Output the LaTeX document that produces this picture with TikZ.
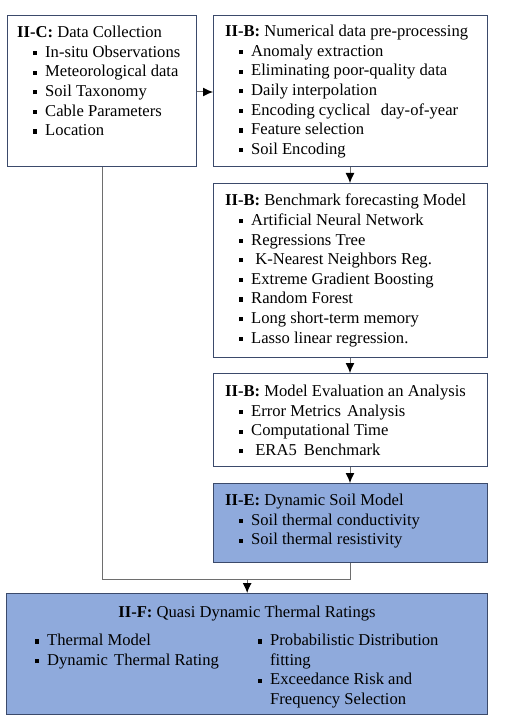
\documentclass[tikz,border=0pt]{standalone}
\usepackage{fontspec}
\setmainfont{Liberation Serif}
\usetikzlibrary{arrows.meta,calc}
\definecolor{boxline}{HTML}{3B4A6B}
\definecolor{boxblue}{HTML}{8FAADC}
\definecolor{conn}{HTML}{6E6E6E}
\newcommand{\bul}{\makebox[12pt][l]{\rule[2.2pt]{4.2pt}{4.2pt}}}
\begin{document}
\begin{tikzpicture}[x=1pt,y=-1pt,
  box/.style={draw=boxline,line width=1.3pt,anchor=north west,inner sep=0pt},
  bluebox/.style={box,fill=boxblue},
  txt/.style={anchor=north west,inner sep=0pt,align=left,font=\fontsize{16.6}{19.6}\selectfont},
  conn/.style={draw=conn,line width=1pt},
  arr/.style={conn,-{Latex[length=10pt,width=9pt,black]}}]
\useasboundingbox (0,0) rectangle (508,719);
\node[box,minimum width=189pt,minimum height=151pt] (b1) at (7,15) {};
\node[box,minimum width=274pt,minimum height=151pt] (b2) at (213,15) {};
\node[box,minimum width=274pt,minimum height=174pt] (b3) at (213,183) {};
\node[box,minimum width=274pt,minimum height=93pt] (b4) at (213,373) {};
\node[bluebox,minimum width=274pt,minimum height=79pt] (b5) at (213,483) {};
\node[bluebox,minimum width=481pt,minimum height=121pt] (b6) at (6,593) {};

\node[txt] (t1) at (17,26) {\textbf{II-C:} Data Collection\\
\hspace*{16pt}\bul In-situ Observations\\
\hspace*{16pt}\bul Meteorological data\\
\hspace*{16pt}\bul Soil Taxonomy\\
\hspace*{16pt}\bul Cable Parameters\\
\hspace*{16pt}\bul Location};
\node[txt] (t2) at (225,25) {\textbf{II-B:} Numerical data pre-processing\\
\hspace*{14pt}\bul Anomaly extraction\\
\hspace*{14pt}\bul Eliminating poor-quality data\\
\hspace*{14pt}\bul Daily interpolation\\
\hspace*{14pt}\bul Encoding cyclical\hspace{6pt} day-of-year\\
\hspace*{14pt}\bul Feature selection\\
\hspace*{14pt}\bul Soil Encoding};
\node[txt] (t3) at (225,194) {\textbf{II-B:} Benchmark forecasting Model\\
\hspace*{14pt}\bul Artificial Neural Network\\
\hspace*{14pt}\bul Regressions Tree\\
\hspace*{14pt}\bul\ K-Nearest Neighbors Reg.\\
\hspace*{14pt}\bul Extreme Gradient Boosting\\
\hspace*{14pt}\bul Random Forest\\
\hspace*{14pt}\bul Long short-term memory\\
\hspace*{14pt}\bul Lasso linear regression.};
\node[txt] (t4) at (225,385) {\textbf{II-B:} Model Evaluation an Analysis\\
\hspace*{14pt}\bul Error Metrics\hspace{2pt} Analysis\\
\hspace*{14pt}\bul Computational Time\\
\hspace*{14pt}\bul\ ERA5\hspace{3pt} Benchmark};
\node[txt] (t5) at (225,494) {\textbf{II-E:} Dynamic Soil Model\\
\hspace*{14pt}\bul Soil thermal conductivity\\
\hspace*{14pt}\bul Soil thermal resistivity};
\node[txt,anchor=north] (t6) at (247,606) {\textbf{II-F:} Quasi Dynamic Thermal Ratings};
\node[txt] (t7) at (35,634) {\bul Thermal Model\\
\bul Dynamic\hspace{2pt} Thermal Rating};
\node[txt] (t8) at (258,634) {\bul Probabilistic Distribution\\
\hspace*{12pt}fitting\\
\bul Exceedance Risk and\\
\hspace*{12pt}Frequency Selection};

\coordinate (jl) at (b1.south |- 0,579);
\coordinate (jr) at (b5.south |- 0,579);
\coordinate (jm) at (b6.north |- 0,579);
\draw[arr] (b1.east |- 0,92) -- (b2.west |- 0,92);
\draw[arr] (b2.south -| 350,0) -- (b3.north -| 350,0);
\draw[arr] (b3.south -| 350,0) -- (b4.north -| 350,0);
\draw[arr] (b4.south -| 350,0) -- (b5.north -| 350,0);
\draw[conn] (b1.south) -- (jl) -- (jr) -- (b5.south);
\draw[arr] (jm) -- (b6.north);
\end{tikzpicture}
\end{document}
